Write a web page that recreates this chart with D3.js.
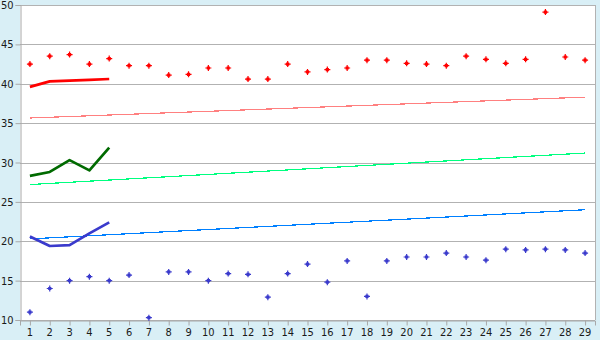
<!DOCTYPE html>
<html><head><meta charset="utf-8">
<script src="https://cdn.jsdelivr.net/npm/d3@7"></script>
<style>
html,body{margin:0;padding:0;background:#d9eff6;}
svg{display:block;}
text{font-family:'DejaVu Sans Condensed','DejaVu Sans',sans-serif;font-size:11px;fill:#1a1a1a;}
</style></head><body>
<svg id="c" width="600" height="340"></svg>
<script>
const categories = d3.range(1, 30);
const redPoints = [42.5,43.5,43.7,42.5,43.2,42.3,42.3,41.1,41.2,42.0,42.0,40.6,40.6,42.5,41.5,41.8,42.0,43.0,43.0,42.6,42.5,42.3,43.5,43.1,42.6,43.1,49.1,43.4,43.0];
const bluePoints = [11.0,14.0,15.0,15.5,15.0,15.7,10.3,16.1,16.1,15.0,15.9,15.8,12.9,15.9,17.1,14.8,17.5,13.0,17.5,18.0,18.0,18.5,18.0,17.6,19.0,18.9,19.0,18.9,18.5];
const lineCats = [1,2,3,4,5];
const redLine = [39.6,40.3,40.4,40.5,40.6];
const greenLine = [28.3,28.8,30.3,29.0,31.9];
const blueLine = [20.6,19.4,19.5,21.0,22.4];
const trendCats = [1,29];
const redTrend = [35.65,38.3];
const greenTrend = [27.2,31.2];
const blueTrend = [20.3,24.0];
const yTicks = [10,15,20,25,30,35,40,45,50];

const svg = d3.select('#c');
const L=20,R=595,T=5,B=320;
const x = d3.scaleBand().domain(categories).range([L,R]).padding(0);
const cx = c => x(c) + x.bandwidth()/2;
const y = d3.scaleLinear().domain([10,50]).range([B,T]);

svg.append('rect').attr('x',L).attr('y',T).attr('width',R-L).attr('height',B-T).attr('fill','#fff');

// grid
svg.append('g').selectAll('line').data(yTicks).join('line')
  .attr('x1',L).attr('x2',R)
  .attr('y1',d=>Math.round(y(d))+0.5).attr('y2',d=>Math.round(y(d))+0.5)
  .attr('stroke','#b2b2b2').attr('stroke-width',1);
svg.append('line').attr('x1',R+0.5).attr('x2',R+0.5).attr('y1',T).attr('y2',B)
  .attr('stroke','#b2b2b2');

// axes
const ya = svg.append('g').attr('transform',`translate(${L+0.5},0)`)
  .call(d3.axisLeft(y).tickValues(yTicks).tickSize(5).tickPadding(2).tickFormat(d3.format('d')));
const xa = svg.append('g').attr('transform',`translate(0,${Math.round(y(10))+0.5})`)
  .call(d3.axisBottom(x).tickSize(5).tickPadding(3));
[ya,xa].forEach(a=>{
  a.selectAll('path.domain').attr('stroke','#a8a8a8');
  a.selectAll('.tick line').attr('stroke','#a8a8a8');
  a.selectAll('text').style('font-family',"'DejaVu Sans Condensed','DejaVu Sans',sans-serif").style('font-size','11px').attr('fill','#1a1a1a');
});
xa.selectAll('.tick line').attr('transform','translate(0.5,0)');

// trend lines
function trend(vals,color){
  const ln = d3.line().x((d,i)=>cx(trendCats[i])).y(d=>y(d));
  svg.append('path').datum(vals).attr('d',ln).attr('fill','none')
    .attr('stroke',color).attr('stroke-width',1.2).attr('shape-rendering','crispEdges');
}
trend(redTrend,'#ff8080');
trend(greenTrend,'#00ff80');
trend(blueTrend,'#0080ff');

// thick lines
function thick(vals,color){
  const ln = d3.line().x((d,i)=>cx(lineCats[i])).y(d=>y(d));
  svg.append('path').datum(vals).attr('d',ln).attr('fill','none')
    .attr('stroke',color).attr('stroke-width',2.7).attr('stroke-linejoin','round');
}
thick(redLine,'#ff0000');
thick(greenLine,'#006a00');
thick(blueLine,'#3a3acc');

// points: plus marker with a fat centre
const marker = {draw(ctx){
  const a=3, t=0.6, c=1.6;
  ctx.moveTo(-a,-t); ctx.lineTo(-c,-t); ctx.lineTo(-c,-c); ctx.lineTo(-t,-c); ctx.lineTo(-t,-a);
  ctx.lineTo(t,-a); ctx.lineTo(t,-c); ctx.lineTo(c,-c); ctx.lineTo(c,-t); ctx.lineTo(a,-t);
  ctx.lineTo(a,t); ctx.lineTo(c,t); ctx.lineTo(c,c); ctx.lineTo(t,c); ctx.lineTo(t,a);
  ctx.lineTo(-t,a); ctx.lineTo(-t,c); ctx.lineTo(-c,c); ctx.lineTo(-c,t); ctx.lineTo(-a,t);
  ctx.closePath();
}};
const sym = d3.symbol().type(marker);
function pts(vals,color){
  svg.append('g').selectAll('path').data(vals).join('path')
    .attr('d',sym).attr('fill',color)
    .attr('transform',(d,i)=>`translate(${cx(categories[i])},${y(d)})`);
}
pts(redPoints,'#ff0000');
pts(bluePoints,'#3a3acc');
</script></body></html>
